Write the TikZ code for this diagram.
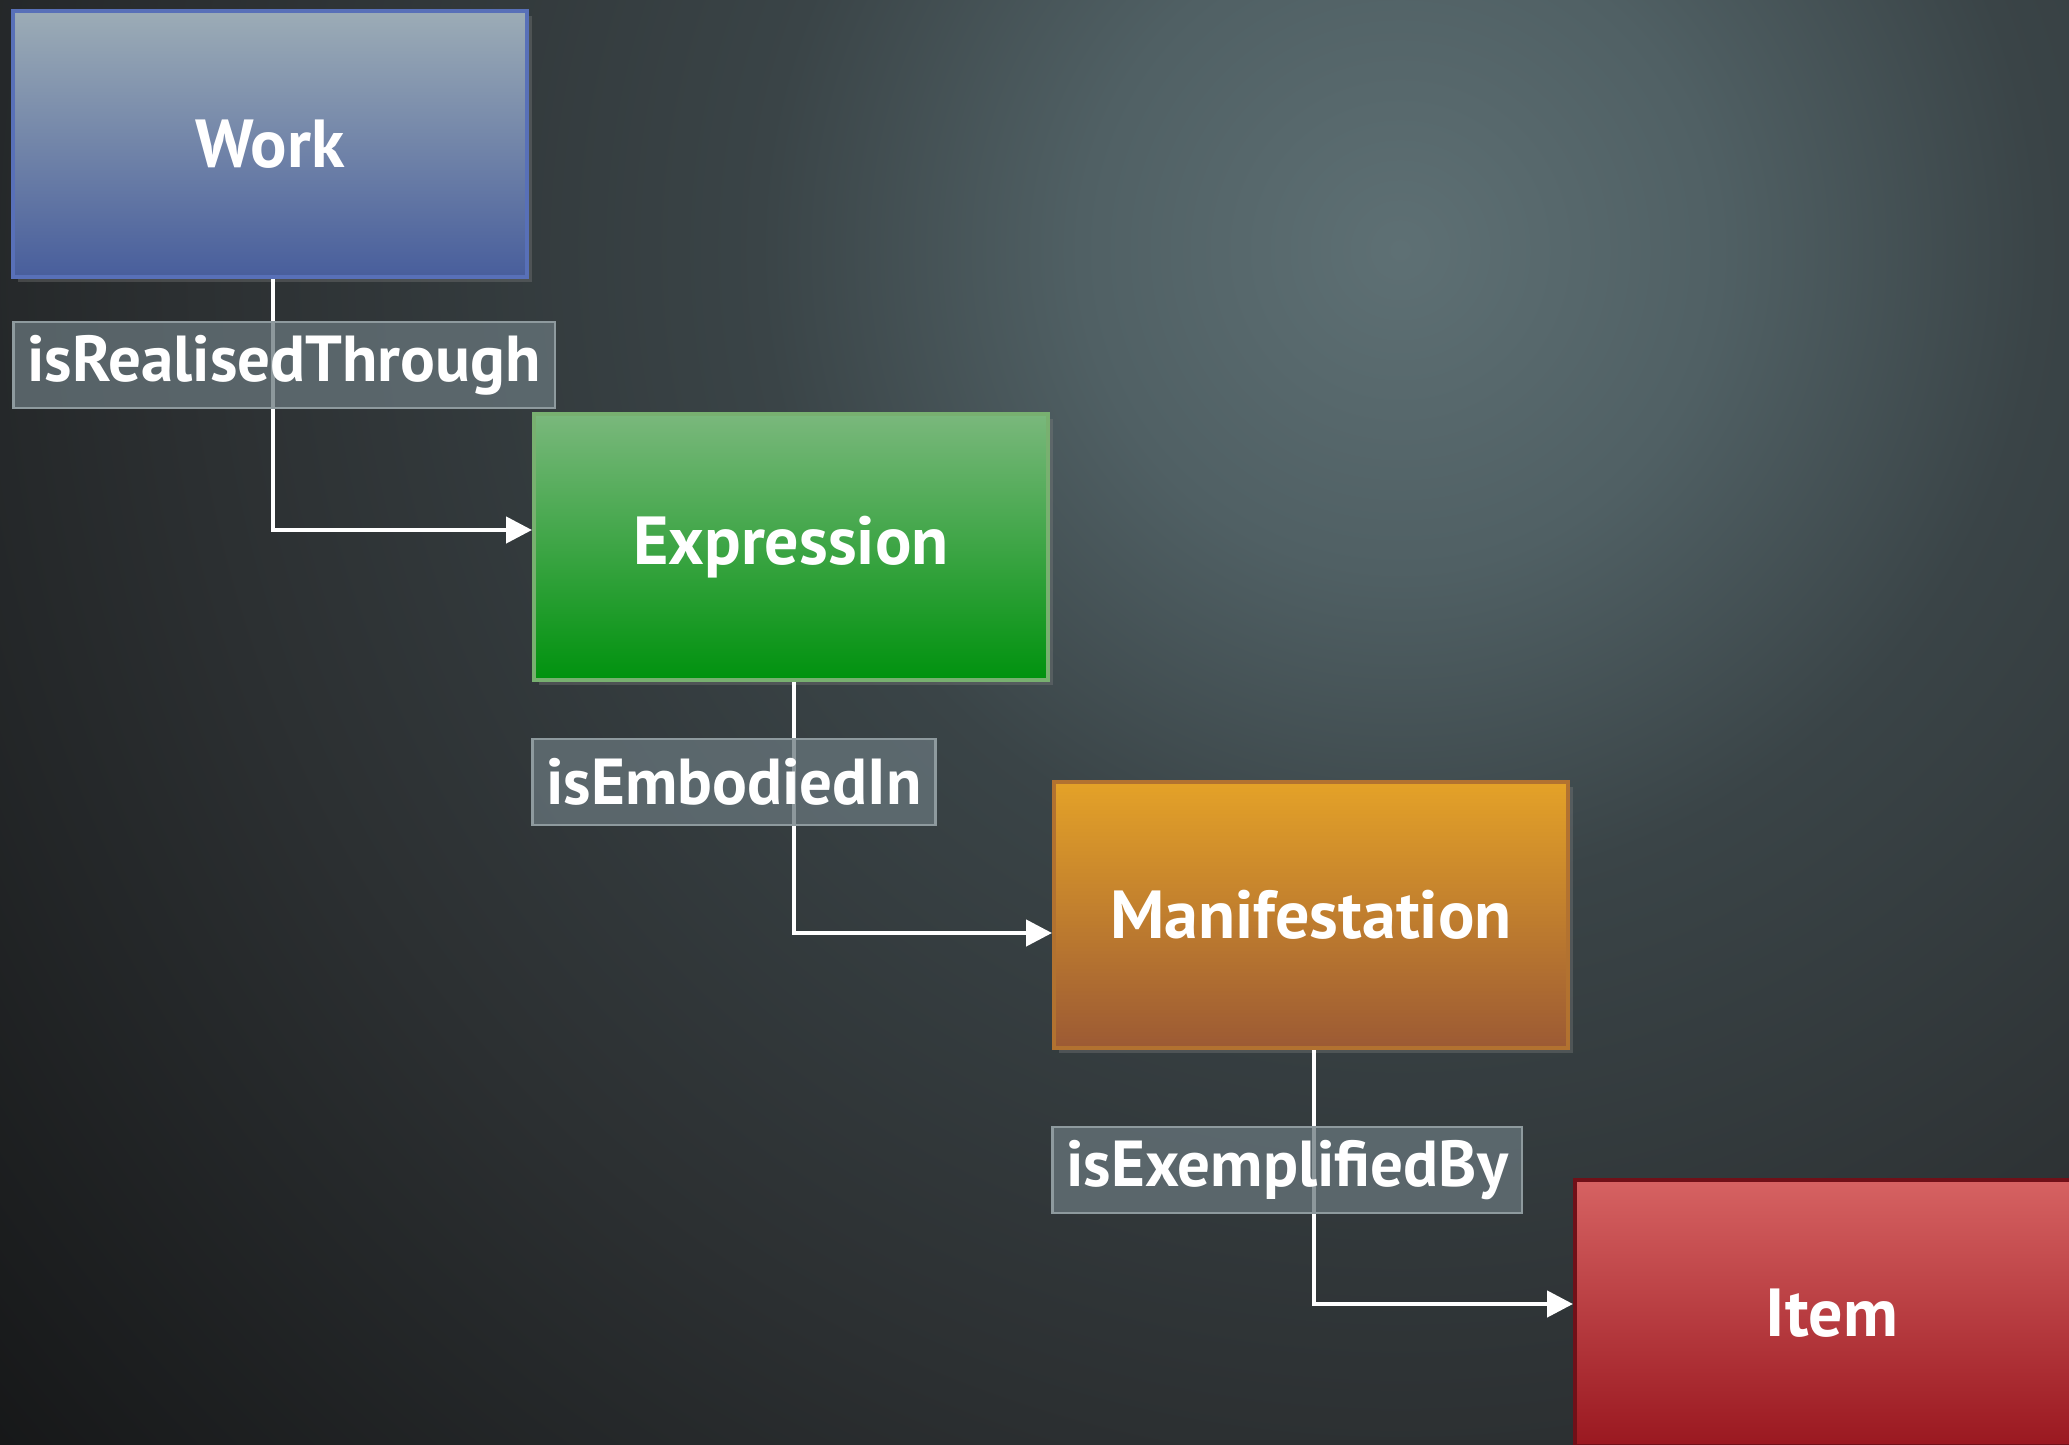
\documentclass[tikz,border=0pt]{standalone}
\usepackage{fontspec}
\setmainfont{PT Sans}
\usepackage{xcolor}
\usepackage{tikz}
\usetikzlibrary{arrows.meta}
\usetikzlibrary{shadows}

\definecolor{glowA}{RGB}{94,112,116}
\definecolor{glowB}{RGB}{80,96,100}
\definecolor{glowC}{RGB}{58,68,71}
\definecolor{glowD}{RGB}{44,48,50}
\definecolor{glowE}{RGB}{20,21,22}
\definecolor{labelfill}{RGB}{104,118,124}
\definecolor{labelline}{RGB}{142,154,158}
\pgfdeclareradialshading{glow}{\pgfpoint{0bp}{0bp}}{color(0bp)=(glowA); color(4bp)=(glowB); color(8bp)=(glowC); color(15bp)=(glowD); color(24bp)=(glowE); color(50bp)=(glowE)}

\begin{document}
\begin{tikzpicture}[x=1pt, y=-1pt,
	entity/.style={draw, line width=4pt, minimum width=514pt, minimum height=266pt, inner sep=0pt,
		font=\fontsize{68}{74}\selectfont\bfseries, text=white,
		drop shadow={shadow xshift=5pt, shadow yshift=-5pt, opacity=0.35}},
	relation/.style={draw=labelline, line width=2.5pt, fill=labelfill, fill opacity=0.75, text opacity=1,
		text=white, font=\fontsize{65}{70}\selectfont\bfseries, minimum height=86pt, inner xsep=14pt, anchor=west},
	link/.style={white, line width=4.5pt, -{Triangle[length=26pt, width=26pt]}}]
	\useasboundingbox (0,0) rectangle (2069,1445);
	\clip (0,0) rectangle (2069,1445);
	% background
	\fill[glowE] (0,0) rectangle (2069,1445);
	\shade[shading=glow] (1400,250) circle (2000);
	% entities
	\node[entity, draw={rgb,255:red,88;green,112;blue,184}, top color={rgb,255:red,156;green,172;blue,182}, bottom color={rgb,255:red,72;green,94;blue,156}] (work) at (270,144) {Work};
	\node[entity, draw={rgb,255:red,120;green,176;blue,112}, top color={rgb,255:red,122;green,184;blue,124}, bottom color={rgb,255:red,0;green,146;blue,14}] (expr) at (791,547) {Expression};
	\node[entity, draw={rgb,255:red,178;green,114;blue,48}, top color={rgb,255:red,228;green,162;blue,40}, bottom color={rgb,255:red,156;green,90;blue,52}] (manif) at (1311,915) {Manifestation};
	\node[entity, draw={rgb,255:red,112;green,16;blue,24}, top color={rgb,255:red,214;green,98;blue,98}, bottom color={rgb,255:red,154;green,24;blue,32}] (item) at (1832,1313) {Item};
	% connectors
	\foreach \a/\b/\s in {work/expr/17, expr/manif/-18, manif/item/9}
		\draw[link] ([xshift=3pt]\a.south) |- ([yshift=\s pt]\b.west);
	% relation labels
	\node[relation] (realised) at (12,365) {isRealisedThrough};
	\node[relation] (embodied) at (531,782) {isEmbodiedIn};
	\node[relation] (exemplified) at (1051,1170) {isExemplifiedBy};
\end{tikzpicture}
\end{document}
